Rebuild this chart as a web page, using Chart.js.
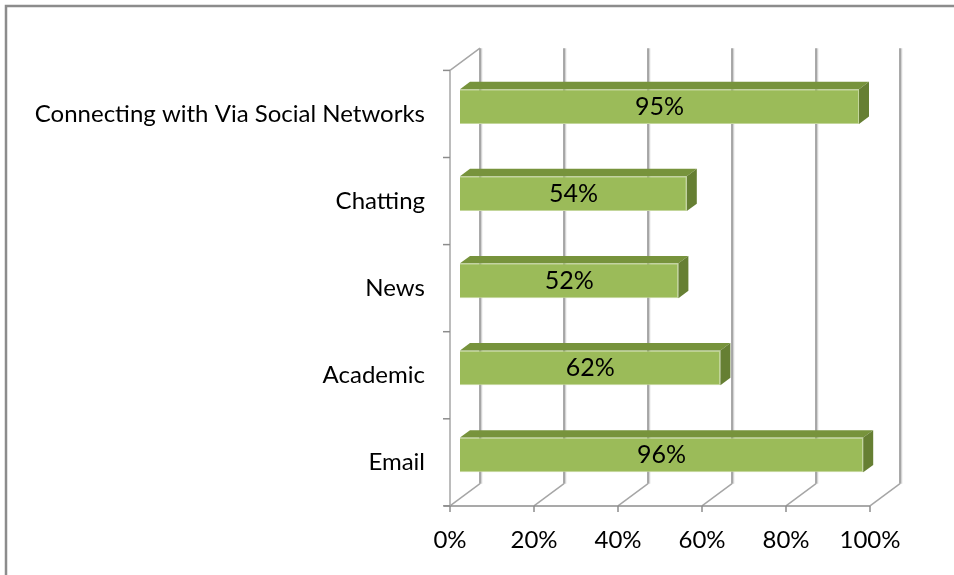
<!DOCTYPE html>
<html>
<head>
<meta charset="utf-8">
<script src="https://cdn.jsdelivr.net/npm/chart.js@4.4.0/dist/chart.umd.min.js"></script>
<style>
  html, body { margin: 0; padding: 0; background: #fff; }
  #wrap { width: 954px; height: 575px; position: relative; }
</style>
</head>
<body>
<div id="wrap"><canvas id="usage"></canvas></div>
<script>
const categories = ["Connecting with Via Social Networks", "Chatting", "News", "Academic", "Email"];
const shares = [0.95, 0.54, 0.52, 0.62, 0.96];
const xTicks = [0, 0.2, 0.4, 0.6, 0.8, 1];

// one step of fake depth; bars sit one step behind the front plane,
// the back wall is two steps behind them
const DX = 10, DY = -7.4;
const FONT = "Lato, 'DejaVu Sans', sans-serif";
const pct = v => Math.round(v * 100) + "%";

const frame = {
  id: "frame",
  beforeDraw(chart) {
    const c = chart.ctx;
    c.save();
    c.strokeStyle = "#8c8c8c";
    c.lineWidth = 2.5;
    c.beginPath();
    c.moveTo(6, chart.height);
    c.lineTo(6, 6);
    c.lineTo(chart.width, 6);
    c.stroke();
    c.restore();
  }
};

const walls = {
  id: "walls",
  beforeDatasetsDraw(chart) {
    const c = chart.ctx, x = chart.scales.x, y = chart.scales.y;
    const fx = v => x.getPixelForValue(v) - DX;
    const bx = v => x.getPixelForValue(v) + 2 * DX;
    const fTop = y.top - DY, fBot = y.bottom - DY;
    const bTop = y.top + 2 * DY, bBot = y.bottom + 2 * DY;
    c.save();
    c.lineWidth = 1.5;
    // back wall gridlines with a soft highlight
    xTicks.forEach(v => {
      c.strokeStyle = "#d4d4d4";
      c.beginPath(); c.moveTo(bx(v) + 1.5, bTop); c.lineTo(bx(v) + 1.5, bBot); c.stroke();
      c.strokeStyle = "#8c8c8c";
      c.beginPath(); c.moveTo(bx(v), bTop); c.lineTo(bx(v), bBot); c.stroke();
      // floor diagonals
      c.strokeStyle = "#a6a6a6";
      c.beginPath(); c.moveTo(fx(v), fBot); c.lineTo(bx(v), bBot); c.stroke();
      // tick marks below the front axis
      c.strokeStyle = "#8c8c8c";
      c.beginPath(); c.moveTo(fx(v), fBot); c.lineTo(fx(v), fBot + 6); c.stroke();
    });
    // front axis line
    c.strokeStyle = "#8c8c8c";
    c.beginPath(); c.moveTo(fx(0) - 6, fBot); c.lineTo(fx(1), fBot); c.stroke();
    // left wall: front edge and top diagonal
    c.strokeStyle = "#a6a6a6";
    c.beginPath(); c.moveTo(bx(0), bTop); c.lineTo(fx(0), fTop); c.lineTo(fx(0), fBot); c.stroke();
    // category boundary ticks
    c.strokeStyle = "#8c8c8c";
    const n = categories.length;
    for (let i = 0; i <= n; i++) {
      let py;
      if (i === 0) py = y.top;
      else if (i === n) py = y.bottom;
      else py = (y.getPixelForValue(i - 1) + y.getPixelForValue(i)) / 2;
      c.beginPath(); c.moveTo(fx(0) - 7, py - DY); c.lineTo(fx(0), py - DY); c.stroke();
    }
    c.restore();
  }
};

const blocks = {
  id: "blocks",
  afterDatasetsDraw(chart) {
    const c = chart.ctx;
    const meta = chart.getDatasetMeta(0);
    c.save();
    meta.data.forEach((bar, i) => {
      const top = bar.y - bar.height / 2, bottom = bar.y + bar.height / 2;
      const l = bar.base, r = bar.x;
      // top face
      c.fillStyle = "#77933c";
      c.beginPath();
      c.moveTo(l, top); c.lineTo(r, top); c.lineTo(r + DX, top + DY); c.lineTo(l + DX, top + DY);
      c.closePath(); c.fill();
      // right face
      c.fillStyle = "#667f33";
      c.beginPath();
      c.moveTo(r, top); c.lineTo(r + DX, top + DY); c.lineTo(r + DX, bottom + DY); c.lineTo(r, bottom);
      c.closePath(); c.fill();
      // value label
      c.fillStyle = "#000";
      c.font = "25px " + FONT;
      c.textAlign = "center";
      c.textBaseline = "middle";
      c.fillText(pct(shares[i]), (l + r) / 2, bar.y);
    });
    c.restore();
  }
};

new Chart(document.getElementById("usage"), {
  type: "bar",
  data: {
    labels: categories,
    datasets: [{
      data: shares,
      backgroundColor: "#9bbb59",
      borderColor: "#c3d69b",
      borderWidth: 1,
      barPercentage: 0.4,
      categoryPercentage: 1
    }]
  },
  options: {
    indexAxis: "y",
    responsive: true,
    maintainAspectRatio: false,
    animation: false,
    layout: { padding: { top: 63, right: 74, left: 0, bottom: 0 } },
    plugins: { legend: { display: false }, tooltip: { enabled: false } },
    scales: {
      x: {
        min: 0, max: 1,
        afterBuildTicks: s => { s.ticks = xTicks.map(v => ({ value: v })); },
        afterFit: s => { s.height = 76.5; },
        grid: { display: false, drawTicks: false },
        border: { display: false },
        ticks: {
          callback: v => pct(v),
          color: "#000",
          font: { family: FONT, size: 24 },
          padding: 27,
          labelOffset: -DX,
          maxRotation: 0,
          autoSkip: false
        }
      },
      y: {
        afterFit: s => { s.width = 460; },
        grid: { display: false, drawTicks: false },
        border: { display: false },
        ticks: {
          color: "#000",
          font: { family: FONT, size: 24 },
          padding: 35,
          labelOffset: -DY
        }
      }
    }
  },
  plugins: [frame, walls, blocks]
});
</script>
</body>
</html>
